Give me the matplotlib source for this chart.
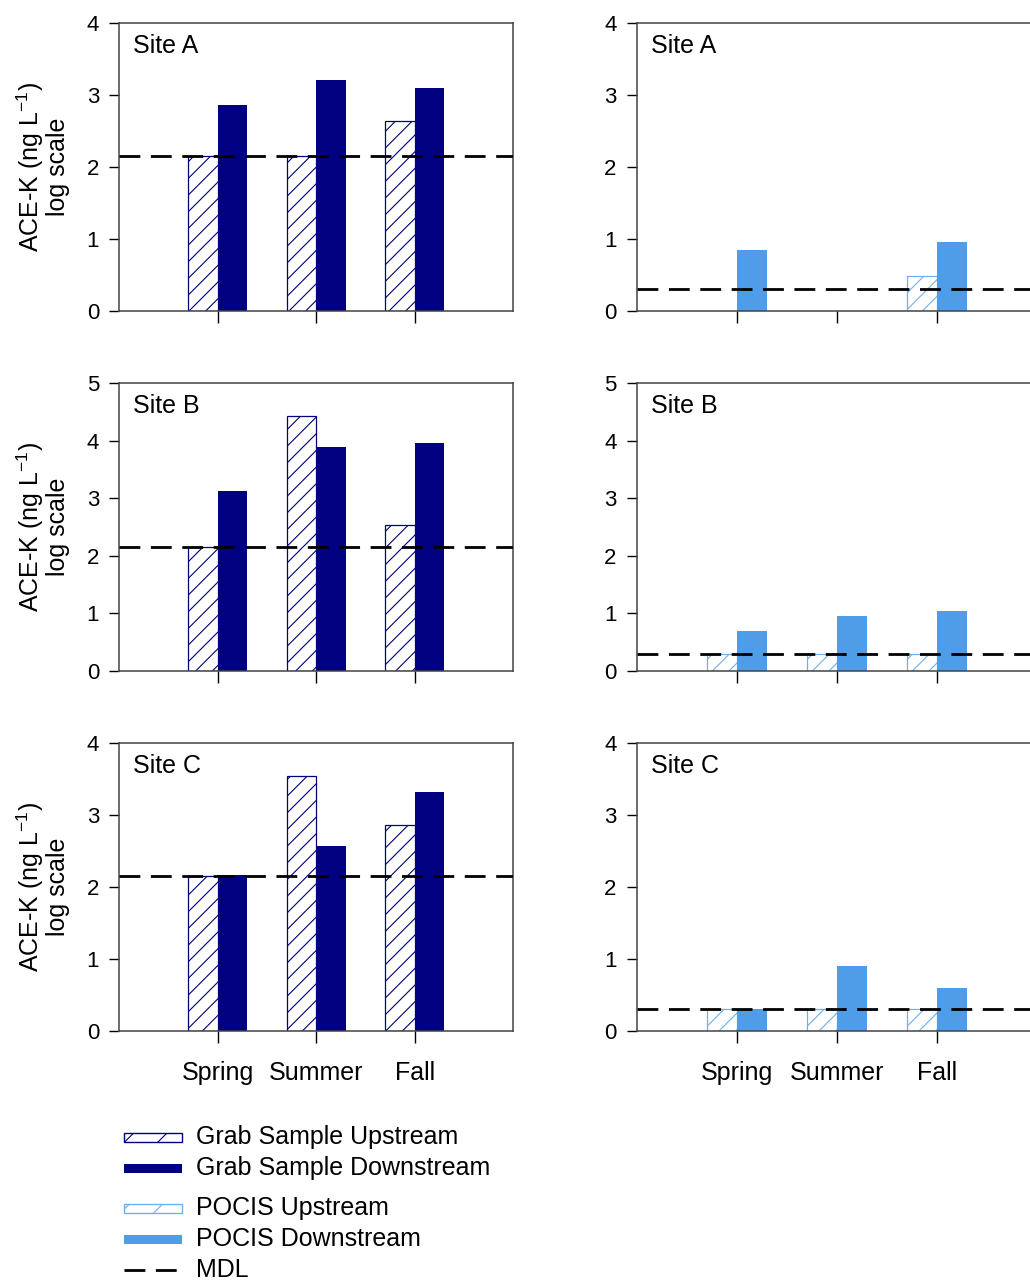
import numpy as np
import matplotlib.pyplot as plt
from matplotlib.patches import Rectangle
from matplotlib.lines import Line2D

plt.rcParams['font.family'] = ['Liberation Sans', 'DejaVu Sans']
plt.rcParams['mathtext.fontset'] = 'custom'
plt.rcParams['mathtext.rm'] = 'Liberation Sans'
plt.rcParams['mathtext.it'] = 'Liberation Sans:italic'
plt.rcParams['hatch.linewidth'] = 0.8

# --- DATA (log10 ng/L) ---
seasons = ['Spring', 'Summer', 'Fall']
sites = ['Site A', 'Site B', 'Site C']
y_top = [4, 5, 4]

# rows = sites, cols = seasons
grab_up = [[2.15, 2.15, 2.64],
           [2.15, 4.43, 2.54],
           [2.15, 3.54, 2.86]]
grab_down = [[2.86, 3.21, 3.10],
             [3.13, 3.90, 3.97],
             [2.17, 2.57, 3.32]]
pocis_up = [[np.nan, np.nan, 0.48],
            [0.30, 0.30, 0.30],
            [0.30, 0.30, 0.30]]
pocis_down = [[0.85, np.nan, 0.96],
              [0.70, 0.96, 1.04],
              [0.30, 0.90, 0.60]]
grab_mdl = 2.15
pocis_mdl = 0.30

NAVY = '#000080'
BLUE = '#4F9CE8'
LIGHT = '#6FB0F2'
SPINE = '#444444'

W, H = 1030, 1282
fig = plt.figure(figsize=(W / 100, H / 100), dpi=100)

# axes boxes in pixels (left, width) per column, top per row
col_px = [(119.3, 394.0), (636.7, 400.0)]
row_top = [23.3, 383.3, 743.3]
ax_h = 287.7

x = np.arange(1, len(seasons) + 1)
bw = 0.3


def draw_panel(ax, up, down, mdl, up_color, down_color, ymax, site, first_col, last_row):
    up = np.asarray(up, dtype=float)
    down = np.asarray(down, dtype=float)
    m = ~np.isnan(up)
    ax.bar(x[m] - bw / 2, up[m], bw, facecolor='white', edgecolor=up_color,
           hatch='//', linewidth=0.9, zorder=2)
    m = ~np.isnan(down)
    ax.bar(x[m] + bw / 2, down[m], bw, color=down_color, linewidth=0, zorder=2)
    ax.axhline(mdl, color='black', lw=2.0, dashes=(7.5, 3.8), zorder=3)

    ax.set_xlim(0, 4)
    ax.set_ylim(0, ymax)
    ax.set_yticks(range(0, ymax + 1))
    ax.set_xticks(x)
    if last_row:
        ax.set_xticklabels(seasons, fontsize=18)
    else:
        ax.set_xticklabels([])
    ax.tick_params(axis='y', direction='out', length=7.5, width=1, colors='black',
                   labelsize=16, pad=7)
    ax.tick_params(axis='x', direction='out', length=8.5, width=1, colors='black',
                   pad=13)
    for s in ax.spines.values():
        s.set_color(SPINE)
        s.set_linewidth(1.1)
    ax.text(0.035, 0.92, site, transform=ax.transAxes, fontsize=18,
            ha='left', va='center')
    if first_col:
        ax.set_ylabel('ACE-K (ng L$^{-1}$)\nlog scale', fontsize=18,
                      linespacing=1.0)
        ax.yaxis.set_label_coords(-0.125, 0.5)


for r, site in enumerate(sites):
    for c in range(2):
        left, width = col_px[c]
        ax = fig.add_axes([left / W, 1 - (row_top[r] + ax_h) / H, width / W, ax_h / H])
        if c == 0:
            draw_panel(ax, grab_up[r], grab_down[r], grab_mdl, NAVY, NAVY,
                       y_top[r], site, True, r == 2)
        else:
            draw_panel(ax, pocis_up[r], pocis_down[r], pocis_mdl, LIGHT, BLUE,
                       y_top[r], site, False, r == 2)

# --- LEGEND (drawn by hand in figure pixels) ---
legend_items = [
    ('Grab Sample Upstream', 'hatch', NAVY, 1137),
    ('Grab Sample Downstream', 'solid', NAVY, 1168),
    ('POCIS Upstream', 'hatch', LIGHT, 1208),
    ('POCIS Downstream', 'solid', BLUE, 1239),
    ('MDL', 'dash', 'black', 1270),
]
x0, x1, tx = 124, 182, 196
for label, kind, color, yc in legend_items:
    yf = 1 - yc / H
    if kind == 'hatch':
        fig.add_artist(Rectangle((x0 / W, yf - 4.5 / H), (x1 - x0) / W, 9 / H,
                                 transform=fig.transFigure, facecolor='white',
                                 edgecolor=color, hatch='/', linewidth=1.0))
    elif kind == 'solid':
        fig.add_artist(Rectangle((x0 / W, yf - 4.5 / H), (x1 - x0) / W, 9 / H,
                                 transform=fig.transFigure, facecolor=color,
                                 edgecolor='none'))
    else:
        fig.add_artist(Line2D([x0 / W, x1 / W], [yf, yf], transform=fig.transFigure,
                              color=color, lw=2.0, dashes=(7.5, 3.8)))
    fig.text(tx / W, yf, label, fontsize=18, ha='left', va='center')

fig.savefig('out.png', dpi=100)
